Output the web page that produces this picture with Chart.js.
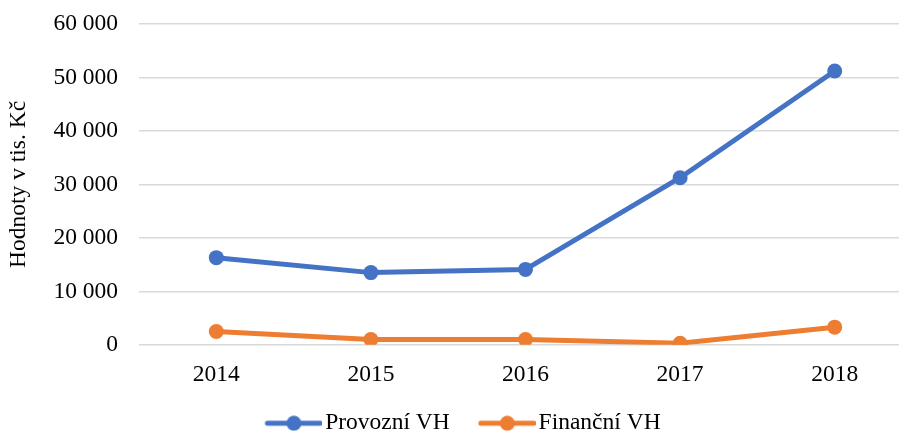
<!DOCTYPE html>
<html>
<head>
<meta charset="utf-8">
<script src="https://cdn.jsdelivr.net/npm/chart.js@4"></script>
<style>
  html, body { margin: 0; padding: 0; background: #fff; overflow: hidden; width: 899px; height: 432px; }
  #wrap { width: 912px; height: 432px; }
  canvas { display: block; width: 912px; height: 432px; }
</style>
</head>
<body>
<div id="wrap"><canvas id="chart" width="912" height="432"></canvas></div>
<script>
const years = ['2014', '2015', '2016', '2017', '2018'];
const provozniVH = [16300, 13500, 14100, 31250, 51200];
const financniVH = [2500, 1000, 1000, 300, 3300];
const seriesNames = ['Provozní VH', 'Finanční VH'];
const seriesColors = ['#4472C4', '#ED7D31'];
const yTicks = [0, 10000, 20000, 30000, 40000, 50000, 60000];

const font = { family: "'Liberation Serif', 'Times New Roman', serif", size: 23.5 };

// legend marker: line with a dot in the middle
function legendMarker(color) {
    const c = document.createElement('canvas');
    c.width = 80;
    c.height = 16;
    const ctx = c.getContext('2d');
    ctx.strokeStyle = color;
    ctx.lineWidth = 5;
    ctx.lineCap = 'round';
    ctx.beginPath();
    ctx.moveTo(25, 8);
    ctx.lineTo(78, 8);
    ctx.stroke();
    ctx.fillStyle = color;
    ctx.beginPath();
    ctx.arc(51.5, 8, 7.5, 0, Math.PI * 2);
    ctx.fill();
    return c;
}

const fmt = v => String(v).replace(/\B(?=(\d{3})+(?!\d))/g, ' ');

new Chart(document.getElementById('chart'), {
    type: 'line',
    data: {
        labels: years,
        datasets: [provozniVH, financniVH].map((d, i) => ({
            label: seriesNames[i],
            data: d,
            borderColor: seriesColors[i],
            backgroundColor: seriesColors[i],
            borderWidth: 5,
            borderCapStyle: 'round',
            borderJoinStyle: 'round',
            pointStyle: 'circle',
            pointRadius: 7.5,
            pointBorderWidth: 0,
            pointBackgroundColor: seriesColors[i],
            tension: 0
        }))
    },
    options: {
        responsive: false,
        animation: false,
        devicePixelRatio: 1,
        layout: { autoPadding: false, padding: { top: 24, left: 0, right: 0, bottom: -13 } },
        plugins: {
            tooltip: { enabled: false },
            legend: {
                position: 'bottom',
                labels: {
                    font: font,
                    color: '#000',
                    usePointStyle: true,
                    pointStyleWidth: 62,
                    padding: 15,
                    generateLabels: chart => chart.data.datasets.map((ds, i) => ({
                        text: ds.label,
                        fillStyle: ds.borderColor,
                        strokeStyle: ds.borderColor,
                        lineWidth: 0,
                        pointStyle: legendMarker(ds.borderColor),
                        fontColor: '#000',
                        datasetIndex: i
                    }))
                }
            }
        },
        scales: {
            x: {
                offset: true,
                grid: { display: false },
                border: { display: false },
                ticks: { font: font, color: '#000', padding: 8, maxRotation: 0 },
                afterFit: s => {
                    s.height = 51.7;
                    s.paddingLeft = 0;
                    s.paddingRight = 0;
                }
            },
            y: {
                min: 0,
                max: 60000,
                afterBuildTicks: s => { s.ticks = yTicks.map(v => ({ value: v })); },
                grid: { color: '#d9d9d9', lineWidth: 1.5, drawTicks: false },
                border: { display: false },
                ticks: { font: font, color: '#000', padding: 21, callback: v => fmt(v) },
                title: {
                    display: true,
                    text: 'Hodnoty v tis. Kč',
                    font: font,
                    color: '#000',
                    padding: { top: 5, bottom: 0 }
                },
                afterFit: s => {
                    s.width = 139;
                    s.paddingTop = 0;
                    s.paddingBottom = 0;
                }
            }
        }
    }
});
</script>
</body>
</html>
